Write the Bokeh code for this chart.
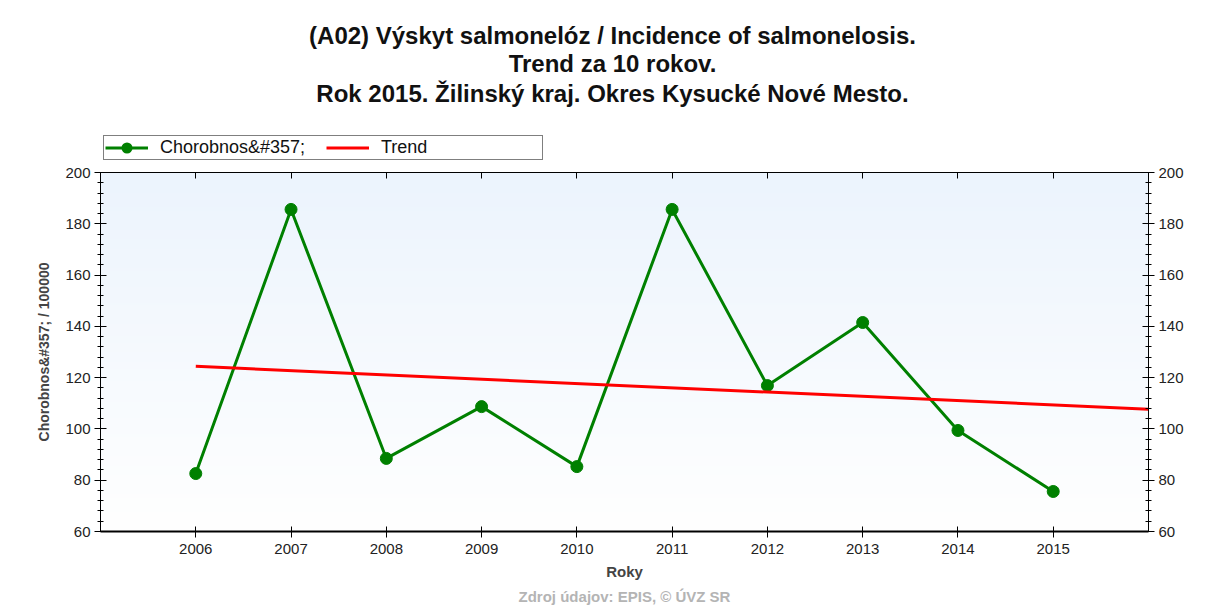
import numpy as np
from bokeh.plotting import figure
from bokeh.layouts import column
from bokeh.models import (Range1d, LinearAxis, FixedTicker, Legend, LegendItem, Title, Label)
from bokeh.embed import file_html
from bokeh.resources import INLINE

# ---- data ----
years = [2006, 2007, 2008, 2009, 2010, 2011, 2012, 2013, 2014, 2015]
incidence = [82.6, 185.6, 88.5, 108.7, 85.3, 185.6, 116.9, 141.5, 99.4, 75.6]
trend_years = [2006, 2016]
trend_values = [124.4, 107.7]
x_ticks = [2006, 2007, 2008, 2009, 2010, 2011, 2012, 2013, 2014, 2015]
y_ticks = [60, 80, 100, 120, 140, 160, 180, 200]
title_lines = ["(A02) Výskyt salmonelóz / Incidence of salmonelosis.",
               "Trend za 10 rokov.",
               "Rok 2015. Žilinský kraj. Okres Kysucké Nové Mesto."]
series_name = "Chorobnos&#357;"
trend_name = "Trend"
y_label = "Chorobnos&#357; / 100000"
x_label = "Roky"
footer = "Zdroj údajov: EPIS, © ÚVZ SR"

X0, X1 = 2005, 2016
Y0, Y1 = 60, 200
FONT = "Liberation Sans"
GREEN = "#008000"
RED = "#ff0000"

W = 1218
HEAD_H = 161
MAIN_H = 607 - HEAD_H
LEFT, RIGHT = 100, 70

# ---------------- header (titles + legend) ----------------
head = figure(width=W, height=HEAD_H, output_backend="svg", toolbar_location=None,
              x_axis_type=None, y_axis_type=None,
              x_range=Range1d(LEFT, W - RIGHT), y_range=Range1d(0, HEAD_H),
              min_border_left=LEFT, min_border_right=RIGHT, min_border_top=0, min_border_bottom=0)
head.grid.visible = False
head.outline_line_color = None
head.background_fill_color = "white"
head.border_fill_color = "white"

for txt, yy in zip(title_lines, [HEAD_H - 35, HEAD_H - 63, HEAD_H - 93]):
    head.add_layout(Label(x=612, y=yy, text=txt, text_align="center", text_baseline="middle",
                          text_font=FONT, text_font_style="bold", text_font_size="24px",
                          text_color="#111111"))

# legend-only renderers (no visible data)
nan = np.array([np.nan])
h_line = head.line(nan, nan, line_color=GREEN, line_width=3)
h_pts = head.scatter(nan, nan, size=12, fill_color=GREEN, line_color=GREEN, line_width=5)
h_trend = head.line(nan, nan, line_color=RED, line_width=3)
legend = Legend(items=[LegendItem(label=series_name, renderers=[h_line, h_pts]),
                       LegendItem(label=trend_name, renderers=[h_trend])],
                orientation="horizontal", location=(3, HEAD_H - 160))
legend.border_line_color = "black"
legend.border_line_width = 1
legend.background_fill_color = "white"
legend.background_fill_alpha = 1
legend.label_text_font = FONT
legend.label_text_font_size = "18px"
legend.label_text_color = "#111111"
legend.glyph_width = 43
legend.glyph_height = 15
legend.label_height = 15
legend.label_width = 160
legend.label_standoff = 12
legend.spacing = 6
legend.padding = 1
legend.margin = 0
head.add_layout(legend, "center")

# ---------------- main chart ----------------
p = figure(width=W, height=MAIN_H, output_backend="svg", toolbar_location=None,
           x_range=Range1d(X0, X1), y_range=Range1d(Y0, Y1),
           min_border_left=LEFT, min_border_right=RIGHT, min_border_top=172 - HEAD_H,
           min_border_bottom=76)
p.border_fill_color = "white"
p.outline_line_color = "black"
p.outline_line_width = 1
p.xgrid.visible = False
p.ygrid.visible = False

# gradient background of plot area
n = 256
t = np.linspace(0, 1, n)  # 0 bottom -> 1 top
top = np.array([236, 244, 253]); bot = np.array([255, 255, 255])
cols = (bot[None, :] * (1 - t[:, None]) + top[None, :] * t[:, None]).astype(np.uint32)
img = np.empty((n, 1), dtype=np.uint32)
view = img.view(dtype=np.uint8).reshape((n, 1, 4))
view[:, 0, 0] = cols[:, 0]; view[:, 0, 1] = cols[:, 1]; view[:, 0, 2] = cols[:, 2]; view[:, 0, 3] = 255
p.image_rgba(image=[img], x=X0, y=Y0, dw=X1 - X0, dh=Y1 - Y0, level="image")

p.line(years, incidence, line_color=GREEN, line_width=3)
p.scatter(years, incidence, size=12, fill_color=GREEN, line_color=GREEN)
p.line(trend_years, trend_values, line_color=RED, line_width=3)

xa = p.xaxis[0]
xa.ticker = FixedTicker(ticks=x_ticks)
xa.axis_line_width = 2
xa.major_tick_in = 5
xa.major_tick_out = 6
xa.minor_tick_line_color = None
xa.major_label_text_font = FONT
xa.major_label_text_font_size = "15px"
xa.major_label_text_color = "#222222"
xa.major_label_standoff = 6
xa.axis_label = x_label
xa.axis_label_text_font = FONT
xa.axis_label_text_font_style = "bold"
xa.axis_label_text_font_size = "15px"
xa.axis_label_standoff = 6

def style_y(ax):
    ax.ticker = FixedTicker(ticks=y_ticks, minor_ticks=list(range(Y0, Y1 + 1, 4)))
    ax.major_tick_in = 6
    ax.major_tick_out = 6
    ax.minor_tick_in = 3
    ax.minor_tick_out = 3
    ax.minor_tick_line_color = "black"
    ax.major_label_text_font = FONT
    ax.major_label_text_font_size = "15px"
    ax.major_label_text_color = "#222222"
    ax.major_label_standoff = 4

ya = p.yaxis[0]
style_y(ya)
ya.axis_label = y_label
ya.axis_label_text_font = FONT
ya.axis_label_text_font_style = "bold"
ya.axis_label_text_font_size = "14px"
ya.axis_label_standoff = 10

ry = LinearAxis()
style_y(ry)
p.add_layout(ry, "right")

ta = LinearAxis(ticker=FixedTicker(ticks=x_ticks))
ta.major_label_text_font_size = "0px"
ta.major_label_text_color = None
ta.major_tick_in = 6
ta.major_tick_out = 0
ta.minor_tick_line_color = None
ta.major_label_standoff = 0
p.add_layout(ta, "above")

p.add_layout(Title(text=footer, align="center", offset=-12, standoff=6,
                   text_font=FONT, text_font_style="bold", text_font_size="15px",
                   text_color="#b4b4b4"), "below")

layout = column(head, p, spacing=0)

open("out.html", "w").write(file_html(layout, INLINE))
